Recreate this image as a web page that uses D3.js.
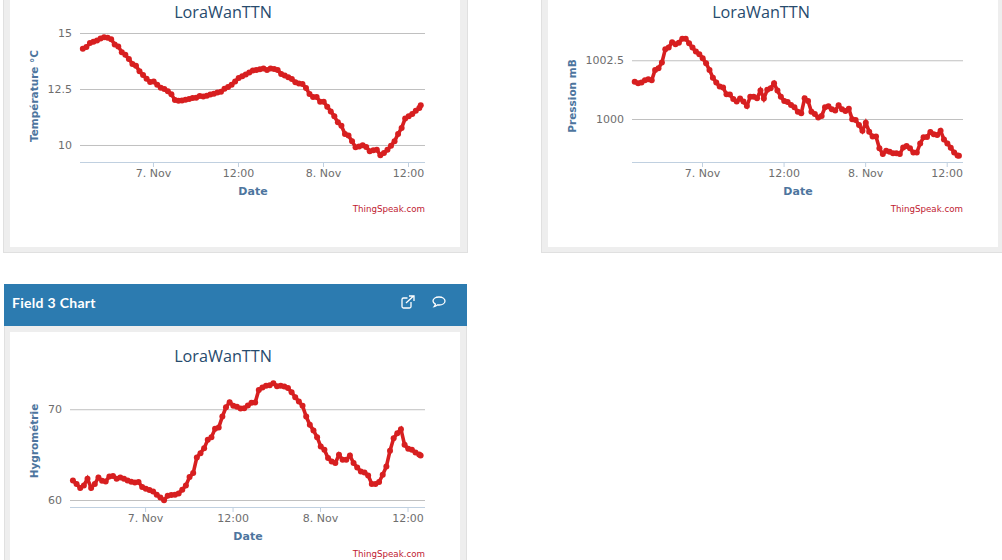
<!DOCTYPE html>
<html>
<head>
<meta charset="utf-8">
<title>LoraWanTTN channel</title>
<script src="https://cdn.jsdelivr.net/npm/d3@7/dist/d3.min.js"></script>
<style>
  html, body { margin: 0; padding: 0; background: #fff; overflow: hidden; }
  svg { display: block; }
  text { font-family: "DejaVu Sans", sans-serif; }
</style>
</head>
<body>
<svg id="page" width="1002" height="560"></svg>
<script>
// Sample times, in hours relative to 7 Nov 00:00
const hours = [-9.9,-9.4,-8.9,-8.4,-7.9,-7.4,-6.9,-6.4,-5.9,-5.4,-4.9,-4.4,-3.9,-3.4,-2.9,-2.4,-1.9,-1.4,-0.9,-0.4,
  0.1,0.6,1.1,1.6,2.1,2.6,3.1,3.6,4.1,4.6,5.1,5.6,6.1,6.6,7.1,7.6,8.1,8.6,9.1,9.6,
  10.1,10.6,11.1,11.6,12.1,12.6,13.1,13.6,14.1,14.6,15.1,15.6,16.1,16.6,17.1,17.6,18.1,18.6,19.1,19.6,
  20.1,20.6,21.1,21.6,22.1,22.6,23.1,23.6,24.1,24.6,25.1,25.6,26.1,26.6,27.1,27.6,28.1,28.6,29.1,29.6,
  30.1,30.6,31.1,31.6,32.1,32.6,33.1,33.6,34.1,34.6,35.1,35.6,36.1,36.6,37.1,37.6,37.8];

const temperature = [14.30,14.37,14.55,14.61,14.66,14.75,14.81,14.79,14.72,14.49,14.40,14.14,14.03,13.84,13.62,13.54,13.29,13.12,12.96,12.81,
  12.83,12.69,12.56,12.50,12.40,12.26,12.01,11.98,11.99,12.02,12.05,12.10,12.11,12.19,12.17,12.20,12.25,12.29,12.34,12.38,
  12.51,12.59,12.69,12.84,12.99,13.07,13.15,13.24,13.33,13.35,13.38,13.41,13.35,13.41,13.39,13.35,13.17,13.10,13.02,12.95,
  12.80,12.74,12.72,12.54,12.28,12.14,12.14,11.93,11.93,11.71,11.50,11.28,11.01,10.86,10.49,10.42,10.17,9.90,9.93,9.99,
  9.91,9.72,9.76,9.79,9.54,9.64,9.79,9.97,10.17,10.49,10.76,11.18,11.28,11.38,11.53,11.65,11.77];

const pressure = [1001.58,1001.52,1001.55,1001.65,1001.69,1001.65,1002.09,1002.16,1002.40,1002.97,1003.04,1003.27,1003.18,1003.25,1003.42,1003.42,1003.22,1003.04,1002.87,1002.76,
  1002.59,1002.37,1002.09,1001.76,1001.55,1001.38,1001.34,1001.05,1001.04,1000.85,1000.74,1000.87,1000.74,1000.55,1000.95,1000.95,1000.88,1001.21,1000.87,1001.24,
  1001.31,1001.52,1001.21,1000.95,1000.77,1000.72,1000.60,1000.50,1000.31,1000.24,1000.88,1000.77,1000.31,1000.21,1000.06,1000.13,1000.50,1000.54,1000.41,1000.36,
  1000.58,1000.41,1000.34,1000.44,999.99,999.96,999.74,999.50,999.84,999.46,999.25,999.25,998.75,998.51,998.65,998.61,998.54,998.54,998.51,998.79,
  998.85,998.75,998.57,998.57,998.96,999.22,999.23,999.45,999.35,999.32,999.50,999.13,998.96,998.78,998.57,998.45,998.44];

const humidity = [62.16,61.76,61.32,61.61,62.34,61.32,61.76,62.49,62.12,62.05,62.60,62.64,62.34,62.49,62.34,62.16,62.01,61.94,61.98,61.43,
  61.25,61.10,60.95,60.59,60.29,59.96,60.48,60.55,60.59,60.73,61.14,61.61,62.53,62.97,64.69,65.16,65.71,66.63,66.92,67.84,
  67.99,69.19,70.22,70.77,70.37,70.26,70.07,70.11,70.40,70.70,70.73,72.12,72.38,72.60,72.64,72.86,72.53,72.60,72.49,72.34,
  71.87,71.32,70.84,70.37,69.19,68.28,67.66,66.92,65.90,65.53,64.62,64.25,64.07,64.98,64.43,64.43,64.91,64.07,63.59,63.15,
  63.04,62.71,61.76,61.76,61.98,62.78,63.70,65.42,66.81,67.36,67.80,66.08,65.64,65.53,65.24,65.02,64.91];

const timeTicks = [0, 12, 24, 36];
const timeLabels = ["7. Nov", "12:00", "8. Nov", "12:00"];
const temperatureTicks = [10, 12.5, 15];
const pressureTicks = [1000, 1002.5];
const humidityTicks = [60, 70];

const RED = "#d71f20";
const svg = d3.select("#page");

// Grey widget frames around the white chart cards
function frame(x, y, w, h, inner) {
  svg.append("rect").attr("x", x + 0.5).attr("y", y + 0.5).attr("width", w - 1).attr("height", h - 1)
    .attr("fill", "#eeeeee").attr("stroke", "#e0e0e0");
  svg.append("rect").attr("x", inner.x).attr("y", inner.y).attr("width", inner.w).attr("height", inner.h)
    .attr("fill", "#ffffff");
}
frame(3, -4, 465, 257, {x: 10, y: -4, w: 450, h: 251});
frame(541, -4, 470, 257, {x: 548, y: -4, w: 450, h: 251});
frame(4, 284, 463, 290, {x: 10, y: 332, w: 450, h: 240});

// Header bar of the third widget with its two icons
svg.append("rect").attr("x", 4).attr("y", 284).attr("width", 463).attr("height", 42).attr("fill", "#2c7bb0");
svg.append("text").attr("x", 12).attr("y", 308).attr("fill", "#fff")
  .style("font-family", "Lato, sans-serif").style("font-weight", 700).style("font-size", "14px").style("letter-spacing", "0.3px")
  .text("Field 3 Chart");
const icons = svg.append("g").attr("fill", "none").attr("stroke", "#fff").attr("stroke-width", 1.3);
icons.append("path").attr("d", "M411 302v4.5a1.5 1.5 0 0 1-1.5 1.5h-6a1.5 1.5 0 0 1-1.5-1.5v-7a1.5 1.5 0 0 1 1.5-1.5h4");
icons.append("path").attr("d", "M406 303l7-6.5M409 296h5v5");
icons.append("path").attr("d", "M439 297c3.6 0 6 1.8 6 4s-2.4 4-6 4c-.6 0-1 0-1.6-.1-.9.9-2 1.5-3.2 1.7.7-.8 1.1-1.6 1.2-2.5-1.4-.8-2.4-1.9-2.4-3.1 0-2.2 2.4-4 6-4z");

// One Highcharts-style line chart: title, grid, axes and red marker line
function drawChart(c) {
  const x = d3.scaleLinear().domain(c.xDomain).range([c.left, c.right]);
  const y = d3.scaleLinear().domain(c.yDomain).range([c.bottom, c.top]);
  const g = svg.append("g");

  g.append("text").attr("x", c.titleX).attr("y", c.titleY).attr("text-anchor", "middle")
    .attr("fill", "#274b6d").style("font-family", "'Open Sans', sans-serif").style("font-size", "16.2px").text("LoraWanTTN");

  // Horizontal gridlines and value labels
  const yAxis = g.append("g").attr("transform", `translate(${c.left},0)`)
    .call(d3.axisLeft(y).tickValues(c.yTicks).tickSize(-(c.right - c.left)).tickPadding(8)
      .tickFormat(d3.format("~r")));
  yAxis.select(".domain").remove();
  yAxis.selectAll("line").attr("stroke", "#c0c0c0");
  yAxis.selectAll("text").attr("fill", "#6e6e6e").style("font-size", "11px")
    .attr("dy", "0.32em").attr("x", c.yLabelX - c.left);

  // Time axis with outward ticks
  const xAxis = g.append("g").attr("transform", `translate(0,${c.bottom})`)
    .call(d3.axisBottom(x).tickValues(timeTicks).tickSize(5).tickPadding(2)
      .tickFormat((d, i) => timeLabels[i]));
  xAxis.select(".domain").attr("stroke", "#c0d0e0").attr("d", `M${c.left},0.5H${c.right}`);
  xAxis.selectAll("line").attr("stroke", "#c0d0e0");
  xAxis.selectAll("text").attr("fill", "#6e6e6e").style("font-size", "11px");

  g.append("text").attr("x", c.dateX).attr("y", c.bottom + 33).attr("text-anchor", "middle")
    .attr("fill", "#4d759e").style("font-weight", 700).style("font-size", "11px").text("Date");
  g.append("text").attr("transform", `translate(${c.axisTitleX},${(c.axisTitleY)}) rotate(-90)`)
    .attr("text-anchor", "middle").attr("fill", "#4d759e").style("font-weight", 700).style("font-size", "10.5px")
    .text(c.axisTitle);
  g.append("text").attr("x", c.right).attr("y", c.bottom + 50).attr("text-anchor", "end")
    .attr("fill", "#c02030").style("font-size", "8.7px").text("ThingSpeak.com");

  // Data line with a round marker at every reading
  const line = d3.line().x((d, i) => x(hours[i])).y(d => y(d));
  g.append("path").datum(c.values).attr("d", line).attr("fill", "none").attr("stroke", RED).attr("stroke-width", 3.6);
  g.append("g").selectAll("circle").data(c.values).join("circle")
    .attr("cx", (d, i) => x(hours[i])).attr("cy", d => y(d)).attr("r", 3).attr("fill", RED);
}

drawChart({
  values: temperature, yTicks: temperatureTicks, axisTitle: "Température °C",
  xDomain: [-10.3, 38.4], yDomain: [9.24, 15],
  left: 80, right: 425, top: 33, bottom: 162,
  titleX: 223, titleY: 18, dateX: 253, yLabelX: 72, axisTitleX: 38, axisTitleY: 96
});
drawChart({
  values: pressure, yTicks: pressureTicks, axisTitle: "Pression mB",
  xDomain: [-10.3, 38.4], yDomain: [998.17, 1003.66],
  left: 632, right: 963, top: 33, bottom: 162,
  titleX: 761, titleY: 18, dateX: 798, yLabelX: 624, axisTitleX: 576, axisTitleY: 96
});
drawChart({
  values: humidity, yTicks: humidityTicks, axisTitle: "Hygrométrie",
  xDomain: [-10.3, 38.4], yDomain: [59.23, 73.44],
  left: 70, right: 425, top: 378, bottom: 507,
  titleX: 223, titleY: 362, dateX: 248, yLabelX: 62, axisTitleX: 38, axisTitleY: 441
});
</script>
</body>
</html>
